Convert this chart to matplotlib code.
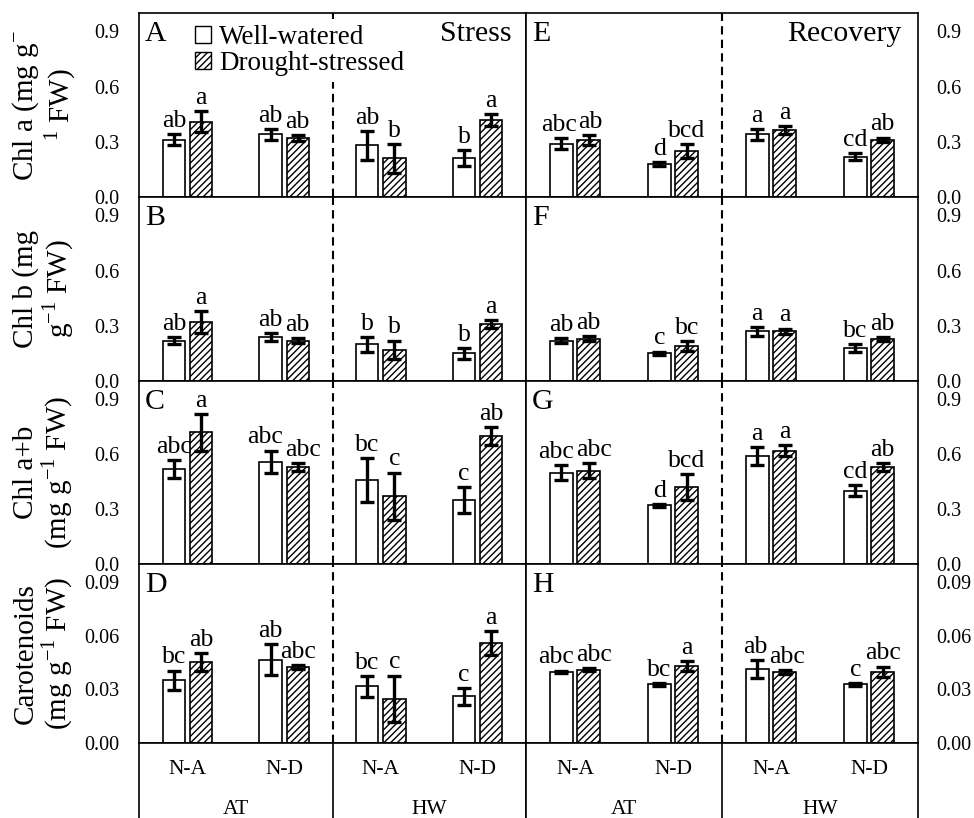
import matplotlib.pyplot as plt
from matplotlib.patches import Patch

plt.rcParams['font.family'] = ['Liberation Serif', 'DejaVu Serif']
plt.rcParams['mathtext.fontset'] = 'custom'
plt.rcParams['mathtext.rm'] = 'Liberation Serif'
plt.rcParams['hatch.linewidth'] = 1.0

genotypes = ['N-A', 'N-D', 'N-A', 'N-D']
temps = ['AT', 'HW']

# Chl a - stress (A) / recovery (E)
chla_s_ww = [0.31, 0.34, 0.28, 0.21]
chla_s_ww_se = [0.03, 0.03, 0.078, 0.044]
chla_s_ds = [0.41, 0.32, 0.21, 0.42]
chla_s_ds_se = [0.057, 0.016, 0.08, 0.033]
chla_s_let = ['ab', 'a', 'ab', 'ab', 'ab', 'b', 'b', 'a']
chla_r_ww = [0.29, 0.18, 0.34, 0.22]
chla_r_ww_se = [0.03, 0.01, 0.03, 0.02]
chla_r_ds = [0.31, 0.25, 0.365, 0.31]
chla_r_ds_se = [0.025, 0.04, 0.02, 0.013]
chla_r_let = ['abc', 'ab', 'd', 'bcd', 'a', 'a', 'cd', 'ab']

# Chl b - stress (B) / recovery (F)
chlb_s_ww = [0.22, 0.24, 0.20, 0.15]
chlb_s_ww_se = [0.02, 0.02, 0.04, 0.03]
chlb_s_ds = [0.32, 0.22, 0.17, 0.31]
chlb_s_ds_se = [0.06, 0.015, 0.05, 0.02]
chlb_s_let = ['ab', 'a', 'ab', 'ab', 'b', 'b', 'b', 'a']
chlb_r_ww = [0.22, 0.15, 0.27, 0.18]
chlb_r_ww_se = [0.015, 0.01, 0.025, 0.02]
chlb_r_ds = [0.23, 0.19, 0.27, 0.23]
chlb_r_ds_se = [0.015, 0.025, 0.015, 0.01]
chlb_r_let = ['ab', 'ab', 'c', 'bc', 'a', 'a', 'bc', 'ab']

# Chl a+b - stress (C) / recovery (G)
chlab_s_ww = [0.52, 0.56, 0.46, 0.35]
chlab_s_ww_se = [0.05, 0.06, 0.12, 0.07]
chlab_s_ds = [0.72, 0.53, 0.37, 0.70]
chlab_s_ds_se = [0.10, 0.02, 0.13, 0.05]
chlab_s_let = ['abc', 'a', 'abc', 'abc', 'bc', 'c', 'c', 'ab']
chlab_r_ww = [0.50, 0.32, 0.59, 0.40]
chlab_r_ww_se = [0.04, 0.01, 0.05, 0.03]
chlab_r_ds = [0.51, 0.42, 0.62, 0.53]
chlab_r_ds_se = [0.04, 0.07, 0.03, 0.02]
chlab_r_let = ['abc', 'abc', 'd', 'bcd', 'a', 'a', 'cd', 'ab']

# Carotenoids - stress (D) / recovery (H)
car_s_ww = [0.035, 0.0466, 0.0316, 0.026]
car_s_ww_se = [0.0055, 0.0086, 0.006, 0.0046]
car_s_ds = [0.0454, 0.0425, 0.0247, 0.0557]
car_s_ds_se = [0.005, 0.001, 0.013, 0.0066]
car_s_let = ['bc', 'ab', 'ab', 'abc', 'bc', 'c', 'c', 'a']
car_r_ww = [0.0397, 0.0328, 0.0414, 0.0328]
car_r_ww_se = [0.0008, 0.0008, 0.005, 0.0008]
car_r_ds = [0.041, 0.043, 0.0397, 0.0397]
car_r_ds_se = [0.001, 0.003, 0.001, 0.003]
car_r_let = ['abc', 'abc', 'bc', 'a', 'ab', 'abc', 'c', 'abc']

row_labels = ['Chl a (mg g$^{-}$\n$^{1}$ FW)',
              'Chl b (mg\ng$^{-1}$ FW)',
              'Chl a+b\n(mg g$^{-1}$ FW)',
              'Carotenoids\n(mg g$^{-1}$ FW)']
panel_letters = [['A', 'E'], ['B', 'F'], ['C', 'G'], ['D', 'H']]
ylims = [1.0, 1.0, 1.0, 0.1]
yticks = [[0, 0.3, 0.6, 0.9]] * 3 + [[0, 0.03, 0.06, 0.09]]
ytick_labels = [['0.0', '0.3', '0.6', '0.9']] * 3 + [['0.00', '0.03', '0.06', '0.09']]

data = [
    [(chla_s_ww, chla_s_ww_se, chla_s_ds, chla_s_ds_se, chla_s_let),
     (chla_r_ww, chla_r_ww_se, chla_r_ds, chla_r_ds_se, chla_r_let)],
    [(chlb_s_ww, chlb_s_ww_se, chlb_s_ds, chlb_s_ds_se, chlb_s_let),
     (chlb_r_ww, chlb_r_ww_se, chlb_r_ds, chlb_r_ds_se, chlb_r_let)],
    [(chlab_s_ww, chlab_s_ww_se, chlab_s_ds, chlab_s_ds_se, chlab_s_let),
     (chlab_r_ww, chlab_r_ww_se, chlab_r_ds, chlab_r_ds_se, chlab_r_let)],
    [(car_s_ww, car_s_ww_se, car_s_ds, car_s_ds_se, car_s_let),
     (car_r_ww, car_r_ww_se, car_r_ds, car_r_ds_se, car_r_let)],
]

W, H = 974, 818
fig = plt.figure(figsize=(W / 100, H / 100), dpi=100)


def box(x0, y0, x1, y1):
    return [x0 / W, 1 - y1 / H, (x1 - x0) / W, (y1 - y0) / H]


cols = [(139, 526), (526, 918)]
rows = [(13, 197), (197, 381), (381, 564), (564, 743)]
x = list(range(4))
off, bw = 0.14, 0.23
lw = 1.2
let_fs = 18.5

for r in range(4):
    for c in range(2):
        x0, x1 = cols[c]
        y0, y1 = rows[r]
        ax = fig.add_axes(box(x0, y0, x1, y1))
        ww, ww_se, ds, ds_se, let = data[r][c]
        xw = [i - off for i in x]
        xd = [i + off for i in x]
        ax.bar(xw, ww, bw, color='white', edgecolor='black', linewidth=lw, zorder=2)
        ax.bar(xd, ds, bw, color='white', edgecolor='black', linewidth=lw,
               hatch='/////', zorder=2)
        for xs, v, e in ((xw, ww, ww_se), (xd, ds, ds_se)):
            ax.errorbar(xs, v, yerr=e, fmt='none', ecolor='black',
                        elinewidth=2.4, capsize=5, capthick=2.4, zorder=3)

        # letters: push neighbouring labels apart when they would collide
        pt_per_unit = (x1 - x0) / 4 * 0.72
        pt_per_y = (y1 - y0) / ylims[r] * 0.72
        gap = 2 * off * pt_per_unit
        for i in range(4):
            t1, t2 = let[2 * i], let[2 * i + 1]
            top1, top2 = ww[i] + ww_se[i], ds[i] + ds_se[i]
            need = 0.47 * let_fs * (len(t1) + len(t2)) / 2 + 1
            shift = 0
            if need > gap and abs(top1 - top2) * pt_per_y < 0.6 * let_fs:
                shift = (need - gap) / 2
            ax.annotate(t1, (xw[i], top1), xytext=(-shift, 1.5),
                        textcoords='offset points', ha='center', va='bottom',
                        fontsize=let_fs)
            ax.annotate(t2, (xd[i], top2), xytext=(shift, 1.5),
                        textcoords='offset points', ha='center', va='bottom',
                        fontsize=let_fs)

        ax.axvline(1.5, color='black', lw=1.5, ls=(0, (4, 2.5)), zorder=1)
        ax.set_xlim(-0.5, 3.5)
        ax.set_ylim(0, ylims[r])
        ax.set_xticks([])
        ax.set_yticks(yticks[r])
        ax.set_yticklabels(ytick_labels[r])
        if c == 1:
            ax.yaxis.tick_right()
            ax.tick_params(axis='y', length=0, pad=13, labelsize=14.5)
        else:
            ax.tick_params(axis='y', length=0, pad=14, labelsize=14.5)
        for s in ax.spines.values():
            s.set_linewidth(lw)
            s.set_zorder(6)
        ax.text(0.015, 0.885, panel_letters[r][c], transform=ax.transAxes,
                ha='left', va='center', fontsize=21.5)
        if r == 0:
            ax.text(0.962 if c == 0 else 0.959, 0.885, ['Stress', 'Recovery'][c],
                    transform=ax.transAxes, ha='right', va='center', fontsize=21.5)
        if r == 0 and c == 0:
            handles = [Patch(facecolor='white', edgecolor='black', linewidth=1),
                       Patch(facecolor='white', edgecolor='black', linewidth=1,
                             hatch='/////')]
            ax.legend(handles, ['Well-watered', 'Drought-stressed'],
                      loc='upper left', bbox_to_anchor=(0.13, 0.965),
                      fontsize=19.5, frameon=True, facecolor='white',
                      edgecolor='none', framealpha=1, fancybox=False,
                      handlelength=0.6, handleheight=0.6, handletextpad=0.3,
                      labelspacing=0.05, borderpad=0.2, borderaxespad=0)
    fig.text(44 / W, 1 - (rows[r][0] + rows[r][1]) / 2 / H, row_labels[r],
             rotation=90, ha='center', va='center', fontsize=21,
             linespacing=1.05, multialignment='center')

# genotype and temperature labels under the panels
for c in range(2):
    lab = fig.add_axes(box(cols[c][0], 743, cols[c][1], 818))
    lab.set_xlim(-0.5, 3.5)
    lab.set_ylim(0, 1)
    lab.set_xticks([])
    lab.set_yticks([])
    lab.spines['bottom'].set_visible(False)
    for s in lab.spines.values():
        s.set_linewidth(lw)
    lab.axvline(1.5, color='black', lw=lw)
    for i in x:
        lab.text(i, 0.64, genotypes[i], ha='center', va='center', fontsize=15.5)
    for j, t in enumerate(temps):
        lab.text(0.5 + 2 * j, 0.12, t, ha='center', va='center', fontsize=15.5)

fig.savefig('out.png', dpi=100)
